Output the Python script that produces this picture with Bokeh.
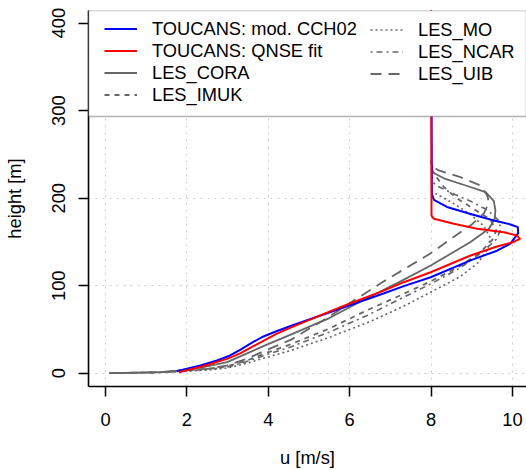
from bokeh.plotting import figure
from bokeh.models import Range1d, BoxAnnotation, Legend, LegendItem
from bokeh.embed import file_html
from bokeh.resources import INLINE

# ---------------- data (u [m/s], height [m]) ----------------
X_TICKS = [0, 2, 4, 6, 8, 10]
Y_TICKS = [0, 100, 200, 300, 400]

cch02_u = [1.75, 2.33, 2.74, 3.05, 3.32, 3.6, 3.88, 4.2, 4.55, 5.53, 6.02, 6.76, 7.33, 7.99, 8.97,
           9.62, 9.95, 10.14, 10.13, 9.95, 9.54, 8.97, 8.39, 8.07, 8.02, 8.0]
cch02_z = [2.3, 8.8, 14.5, 20, 27, 35, 42, 48, 54, 70, 78, 90, 99.5, 109.7, 129,
           140, 148, 160, 167, 170, 174.5, 182, 190, 198, 205, 420]

qnse_u = [1.8, 2.33, 2.99, 3.32, 3.6, 3.88, 4.2, 4.55, 5.53, 6.02, 6.76, 7.33, 7.99, 8.97, 9.62,
          10.03, 10.18, 10.11, 9.79, 9.13, 8.56, 8.07, 8.01, 8.0]
qnse_z = [1.0, 7, 16.4, 23, 30, 37, 45, 52, 71, 80, 93, 104, 115.4, 134.5, 144.8,
          150, 153.6, 157.4, 161, 165, 170.7, 176.5, 180, 420]

cora_u = [0.1, 1.35, 1.76, 2.4, 2.99, 3.45, 3.88, 4.55, 5.5, 6.35, 7.25, 7.99, 8.97, 9.42,
          9.56, 9.58, 9.54, 9.34, 8.85, 8.35, 8.03, 8.03]
cora_z = [0.0, 1.2, 3, 7, 12.6, 22, 31, 44, 63, 84, 105, 123, 150, 165,
          176, 186, 197, 207, 214.5, 222, 229.7, 237]

imuk_u = [0.1, 1.35, 1.8, 2.5, 3.0, 3.45, 3.88, 4.55, 5.5, 6.43, 7.2, 7.99, 8.7, 9.2,
          9.5, 9.6, 9.45, 9.0, 8.6, 8.31, 8.1, 8.0]
imuk_z = [0.0, 1.0, 2.5, 5, 8, 14, 22, 33, 51, 72, 88, 105, 122, 138,
          152, 163, 176, 189, 201, 213, 226, 234]

mo_u = [0.1, 1.35, 1.9, 2.5, 3.0, 3.45, 3.88, 4.55, 5.5, 6.5, 7.3, 7.99, 8.7, 9.15,
        9.4, 9.45, 9.3, 8.95, 8.55, 8.2, 8.0]
mo_z = [0.0, 1.0, 2.0, 3.5, 6, 11, 17, 26, 41, 59, 76, 92.6, 110, 126,
        142, 155, 168, 182, 194, 203, 208]

ncar_u = [0.1, 1.35, 1.8, 2.5, 3.0, 3.45, 3.88, 4.55, 5.5, 6.43, 7.2, 7.99, 8.7, 9.25,
          9.6, 9.72, 9.65, 9.4, 8.95, 8.5, 8.15, 8.0]
ncar_z = [0.0, 1.0, 2.0, 4.5, 7, 13, 20, 30, 47, 66, 84, 102, 120, 138,
          153, 165, 175, 186, 197, 206, 214, 220]

uib_u = [0.1, 1.35, 1.8, 2.5, 3.0, 3.45, 3.88, 4.55, 5.3, 6.1, 6.84, 7.99, 8.56, 9.0,
         9.3, 9.42, 9.38, 9.21, 8.72, 8.19, 8.0, 8.0]
uib_z = [0.0, 1.0, 2.5, 5, 9, 16, 25, 38, 59, 83, 105, 137, 156, 170,
         183, 195, 203, 214.5, 224, 231.7, 237, 243]

LEGEND_TOP = 293.4  # height where the legend box begins

FONT = "Liberation Sans"
FS = "18.3px"
GREY = "#666666"

p = figure(width=526, height=470, output_backend="svg", toolbar_location=None,
           x_range=Range1d(-0.418, 10.344), y_range=Range1d(-15.2, 414.5),
           min_border_left=88, min_border_right=0, min_border_top=10, min_border_bottom=84,
           background_fill_color="white", border_fill_color="white")
p.outline_line_color = None

# axes
p.xaxis.ticker = X_TICKS
p.yaxis.ticker = Y_TICKS
p.xaxis.axis_label = "u [m/s]"
p.yaxis.axis_label = "height [m]"
for ax in p.axis:
    ax.axis_line_color = "black"
    ax.axis_line_width = 1.6
    ax.major_tick_line_color = "black"
    ax.major_tick_line_width = 1.5
    ax.major_tick_out = 10
    ax.major_tick_in = 0
    ax.minor_tick_line_color = None
    ax.major_label_text_font = FONT
    ax.major_label_text_font_size = FS
    ax.major_label_text_color = "black"
    ax.axis_label_text_font = FONT
    ax.axis_label_text_font_size = FS
    ax.axis_label_text_font_style = "normal"
    ax.axis_label_text_color = "black"
p.xaxis.major_label_standoff = 16
p.yaxis.major_label_standoff = 13
p.yaxis.major_label_orientation = "vertical"
p.xaxis.axis_label_standoff = 18
p.yaxis.axis_label_standoff = 25

for g in (p.xgrid, p.ygrid):
    g.grid_line_color = "#cccccc"
    g.grid_line_dash = "2 5"
    g.grid_line_width = 1

# lines
common = dict(line_join="round")
r_cora = p.line(cora_u, cora_z, line_color=GREY, line_width=1.8, **common)
r_imuk = p.line(imuk_u, imuk_z, line_color=GREY, line_width=1.8, line_dash="5 5", **common)
r_mo = p.line(mo_u, mo_z, line_color=GREY, line_width=1.6, line_dash="2 3", **common)
r_ncar = p.line(ncar_u, ncar_z, line_color=GREY, line_width=1.6, line_dash="2 4 6 4", **common)
r_uib = p.line(uib_u, uib_z, line_color=GREY, line_width=1.8, line_dash="11 7", **common)
r_cch = p.line(cch02_u, cch02_z, line_color="#0000ff", line_width=2, **common)
r_qnse = p.line(qnse_u, qnse_z, line_color="#ff0000", line_width=2, **common)

# legend box
box = BoxAnnotation(bottom=LEGEND_TOP, fill_color="white", fill_alpha=1.0,
                    line_color="black", line_width=1.6, level="annotation")
p.add_layout(box)

leg_common = dict(orientation="vertical", padding=0, margin=0, spacing=0,
                  glyph_width=33, glyph_height=21, label_height=21, label_standoff=15,
                  border_line_color=None, background_fill_alpha=0.0,
                  label_text_font=FONT, label_text_font_size=FS,
                  label_text_color="black")
leg1 = Legend(items=[LegendItem(label="TOUCANS: mod. CCH02", renderers=[r_cch]),
                     LegendItem(label="TOUCANS: QNSE fit", renderers=[r_qnse]),
                     LegendItem(label="LES_CORA", renderers=[r_cora]),
                     LegendItem(label="LES_IMUK", renderers=[r_imuk])],
              location=(16, 376 - 11.5 - 84), **leg_common)
leg2 = Legend(items=[LegendItem(label="LES_MO", renderers=[r_mo]),
                     LegendItem(label="LES_NCAR", renderers=[r_ncar]),
                     LegendItem(label="LES_UIB", renderers=[r_uib])],
              location=(282, 376 - 11.5 - 63), **leg_common)
p.add_layout(leg1)
p.add_layout(leg2)

open("out.html", "w").write(file_html(p, INLINE))
